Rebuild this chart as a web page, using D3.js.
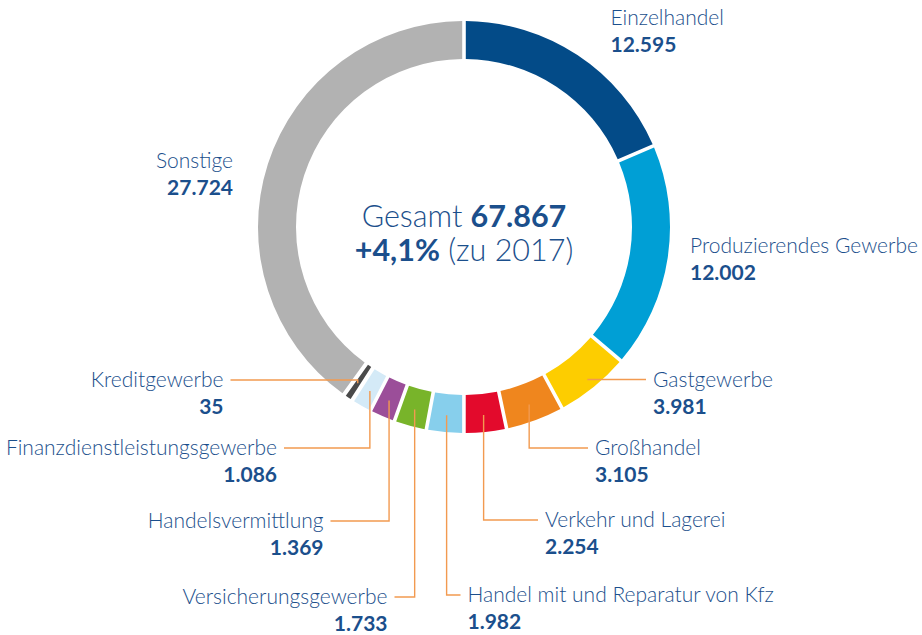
<!DOCTYPE html>
<html>
<head>
<meta charset="utf-8">
<script src="https://cdn.jsdelivr.net/npm/d3@7"></script>
<style>
  html, body { margin: 0; padding: 0; background: #fff; }
  svg { display: block; }
  text { font-family: Lato, "Open Sans", sans-serif; }
</style>
</head>
<body>
<svg id="chart" width="922" height="635"></svg>
<script>
// ---- data ----
const categories = ["Einzelhandel", "Produzierendes Gewerbe", "Gastgewerbe", "Großhandel",
  "Verkehr und Lagerei", "Handel mit und Reparatur von Kfz", "Versicherungsgewerbe",
  "Handelsvermittlung", "Finanzdienstleistungsgewerbe", "Kreditgewerbe", "Sonstige"];
const values = [12595, 12002, 3981, 3105, 2254, 1982, 1733, 1369, 1086, 35, 27724];
const totalValue = 67867;
const changeText = "+4,1%";
const compareYear = "2017";

// ---- styles / layout ----
const colors = ["#034b88", "#009fd5", "#fdcd00", "#ef861e", "#e30a2c", "#87cfec",
  "#78b42a", "#9b4e99", "#d4eaf7", "#4a4a4a", "#b2b2b2"];
// label layout: x, baseline y of name line, text-anchor, leader? (none | vh | h)
const labelLayout = [
  {x: 610.5, y: 24.5, anchor: "start", leader: "none"},
  {x: 690, y: 253, anchor: "start", leader: "none"},
  {x: 653, y: 386.5, anchor: "start", leader: "h"},
  {x: 595, y: 455, anchor: "start", leader: "vh"},
  {x: 545, y: 527, anchor: "start", leader: "vh"},
  {x: 467.5, y: 602, anchor: "start", leader: "vh"},
  {x: 387.5, y: 604, anchor: "end", leader: "vh"},
  {x: 323.5, y: 528, anchor: "end", leader: "vh"},
  {x: 277, y: 455, anchor: "end", leader: "vh"},
  {x: 223.5, y: 387, anchor: "end", leader: "vh"},
  {x: 233, y: 167.5, anchor: "end", leader: "none"}
];

const cx = 464, cy = 227;
const rOuter = 206, rInner = 168, rAnchor = 189;
const gapPx = 3.6, padR = 187;
const minAngle = 2.9 * Math.PI / 180;
const textColor = "#1b4f8c";
const leaderColor = "#f29a50";
const fontSize = 21;

const fmt = d3.formatLocale({decimal: ",", thousands: ".", grouping: [3], currency: ["", "€"]}).format(",");

const data = categories.map((c, i) => ({name: c, value: values[i], color: colors[i], layout: labelLayout[i]}));

const pie = d3.pie().sort(null).value(d => d.value).startAngle(0).endAngle(2 * Math.PI);
const arcsData = pie(data);
// make very small slices visible (keep order, take space from the following slice)
arcsData.forEach((a, i) => {
  a.padAngle = gapPx / padR;
  if (a.endAngle - a.startAngle < minAngle && i < arcsData.length - 1) {
    a.endAngle = a.startAngle + minAngle;
    arcsData[i + 1].startAngle = a.endAngle;
    a.padAngle = 4.6 / padR;
  }
});

const arc = d3.arc().innerRadius(rInner).outerRadius(rOuter).padRadius(padR);

const svg = d3.select("#chart");
const g = svg.append("g").attr("transform", `translate(${cx},${cy})`);

g.selectAll("path.slice")
  .data(arcsData)
  .join("path")
  .attr("class", "slice")
  .attr("d", arc)
  .attr("fill", d => d.data.color);

// leader lines
const leaders = svg.append("g")
  .attr("fill", "none")
  .attr("stroke", leaderColor)
  .attr("stroke-width", 1.4);

arcsData.forEach(a => {
  const L = a.data.layout;
  if (L.leader === "none") return;
  const ang = (a.startAngle + a.endAngle) / 2;
  const lineY = L.y - 7;
  const endX = L.anchor === "start" ? L.x - 7 : L.x + 7;
  let ax, ay;
  if (L.leader === "h") {
    const r = (lineY - cy) / (-Math.cos(ang));
    ax = cx + r * Math.sin(ang);
    ay = lineY;
  } else {
    ax = cx + rAnchor * Math.sin(ang);
    ay = cy - rAnchor * Math.cos(ang);
  }
  const p = d3.path();
  p.moveTo(ax, ay);
  p.lineTo(ax, lineY);
  p.lineTo(endX, lineY);
  leaders.append("path").attr("d", p.toString());
});

// labels
const labels = svg.append("g").attr("fill", textColor).attr("font-size", fontSize);
arcsData.forEach(a => {
  const L = a.data.layout;
  labels.append("text")
    .attr("x", L.x).attr("y", L.y)
    .attr("text-anchor", L.anchor)
    .attr("font-weight", 300)
    .text(a.data.name);
  labels.append("text")
    .attr("x", L.x).attr("y", L.y + 27)
    .attr("text-anchor", L.anchor)
    .attr("font-weight", 700)
    .text(fmt(a.data.value));
});

// center text
const center = svg.append("g").attr("fill", textColor).attr("font-size", 30.5).attr("text-anchor", "middle");
const t1 = center.append("text").attr("x", cx).attr("y", 226.5);
t1.append("tspan").attr("font-weight", 300).text("Gesamt ");
t1.append("tspan").attr("font-weight", 700).text(fmt(totalValue));
const t2 = center.append("text").attr("x", cx).attr("y", 260.5);
t2.append("tspan").attr("font-weight", 700).text(changeText);
t2.append("tspan").attr("font-weight", 300).text(" (zu " + compareYear + ")");
</script>
</body>
</html>
